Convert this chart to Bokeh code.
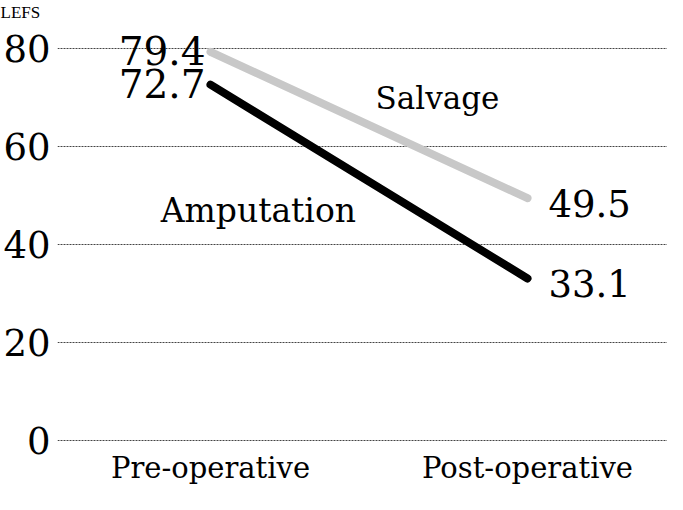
from bokeh.plotting import figure
from bokeh.models import Range1d, FixedTicker
from bokeh.core.properties import value
from bokeh.embed import file_html
from bokeh.resources import INLINE

categories = ["Pre-operative", "Post-operative"]
salvage = [79.4, 49.5]
amputation = [72.7, 33.1]
y_ticks = [0, 20, 40, 60, 80]
y_label = "LEFS"

FONT = "DejaVu Serif"
xs = list(range(len(categories)))

p = figure(width=667, height=494, output_backend="svg", toolbar_location=None,
           title=y_label,
           x_range=Range1d(-0.4826, 1.4416), y_range=Range1d(-0.82, 85.6),
           min_border_left=57, min_border_right=0, min_border_top=0, min_border_bottom=50)
p.outline_line_color = None
p.background_fill_color = "white"
p.border_fill_color = "white"

p.title.text_font = "Liberation Serif"
p.title.text_font_size = "17px"
p.title.text_font_style = "normal"
p.title.text_color = "black"
p.title.align = "left"
p.title.offset = -57
p.title.standoff = 0

# grid
p.xgrid.grid_line_color = None
p.ygrid.ticker = FixedTicker(ticks=y_ticks)
p.ygrid.grid_line_color = "#444444"
p.ygrid.grid_line_dash = "2 1"
p.ygrid.grid_line_width = 1

# axes
p.yaxis.ticker = FixedTicker(ticks=y_ticks)
p.xaxis.ticker = FixedTicker(ticks=xs)
p.xaxis.major_label_overrides = {i: c for i, c in enumerate(categories)}
for ax in (p.xaxis, p.yaxis):
    ax.axis_line_color = None
    ax.major_tick_line_color = None
    ax.minor_tick_line_color = None
    ax.major_tick_in = 0
    ax.major_tick_out = 0
    ax.major_label_text_font = FONT
    ax.major_label_text_color = "black"
p.yaxis.major_label_text_font_size = "37px"
p.yaxis.major_label_standoff = 7
p.xaxis.major_label_text_font_size = "29px"
p.xaxis.major_label_standoff = 6

# lines
p.line(xs, salvage, line_color="#c8c8c8", line_width=8, line_cap="round")
p.line(xs, amputation, line_color="black", line_width=8, line_cap="round")

# value labels
p.text([xs[0]] * 2, [salvage[0], amputation[0]], text=[f"{salvage[0]}", f"{amputation[0]}"],
       text_font=value(FONT), text_font_size="39px", text_align="right",
       text_baseline="middle", x_offset=-5, y_offset=-1, text_color="black")
p.text([xs[1]] * 2, [salvage[1], amputation[1]], text=[f"{salvage[1]}", f"{amputation[1]}"],
       text_font=value(FONT), text_font_size="37px", text_align="left",
       text_baseline="middle", x_offset=21, y_offset=5, text_color="black")

# series names
p.text([0.716], [70], text=["Salvage"], text_font=value(FONT), text_font_size="31px",
       text_align="center", text_baseline="middle", text_color="black")
p.text([0.151], [47], text=["Amputation"], text_font=value(FONT), text_font_size="33px",
       text_align="center", text_baseline="middle", text_color="black")

open("out.html", "w").write(file_html(p, INLINE))
